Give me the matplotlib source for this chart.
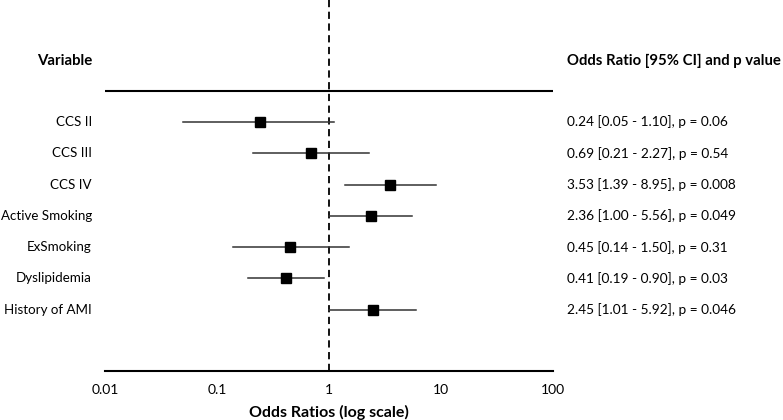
import matplotlib
matplotlib.use("Agg")
import matplotlib.pyplot as plt
import matplotlib.transforms as mtransforms

plt.rcParams['font.family'] = ['Lato', 'DejaVu Sans']

VARIABLES = ["CCS II", "CCS III", "CCS IV", "Active Smoking", "ExSmoking", "Dyslipidemia", "History of AMI"]
ODDS = [0.24, 0.69, 3.53, 2.36, 0.45, 0.41, 2.45]
LOWER = [0.05, 0.21, 1.39, 1.00, 0.14, 0.19, 1.01]
UPPER = [1.10, 2.27, 8.95, 5.56, 1.50, 0.90, 5.92]
PVALUES = ["0.06", "0.54", "0.008", "0.049", "0.31", "0.03", "0.046"]
XTICKS = [0.01, 0.1, 1, 10, 100]
XTICK_LABELS = ["0.01", "0.1", "1", "10", "100"]

fig = plt.figure(figsize=(7.83, 4.2), dpi=100)
ax = fig.add_axes([105 / 783, 1 - 371 / 420, 448 / 783, 371 / 420])

rows = list(range(len(VARIABLES)))

# intervaly a body
for i in rows:
    ax.plot([LOWER[i], UPPER[i]], [i, i], color="#333333", lw=1.1, zorder=2)
ax.plot(ODDS, rows, ls="none", marker="s", ms=7, color="black", zorder=3)

ax.axvline(1, color="black", ls=(0, (4, 2.5)), lw=1.3, zorder=1)
ax.axhline(-1.0, color="black", lw=1.5, zorder=1)

ax.set_xscale("log")
ax.set_xlim(0.01, 100)
ax.set_ylim(7.96, -3.9)
ax.set_xticks(XTICKS)
ax.set_xticklabels(XTICK_LABELS, fontsize=10)
ax.minorticks_off()
ax.tick_params(axis="x", length=0, pad=9)
ax.set_yticks([])
for s in ["top", "left", "right"]:
    ax.spines[s].set_visible(False)
ax.spines["bottom"].set_linewidth(1.5)
ax.set_xlabel("Odds Ratios (log scale)", fontsize=11.5, fontweight="bold", labelpad=7)

trans = mtransforms.blended_transform_factory(ax.transAxes, ax.transData)
left_x = (92 - 105) / 448
right_x = (567 - 105) / 448

ax.text(left_x, -1.95, "Variable", transform=trans, ha="right", va="center",
        fontsize=10.8, fontweight="bold")
ax.text(right_x, -1.95, "Odds Ratio [95% CI] and p value", transform=trans, ha="left",
        va="center", fontsize=10.7, fontweight="bold")

for i in rows:
    ax.text(left_x, i, VARIABLES[i], transform=trans, ha="right", va="center", fontsize=9.6)
    label = "%.2f [%.2f - %.2f], p = %s" % (ODDS[i], LOWER[i], UPPER[i], PVALUES[i])
    ax.text(right_x, i, label, transform=trans, ha="left", va="center", fontsize=9.8)

fig.savefig("out.png", dpi=100)
